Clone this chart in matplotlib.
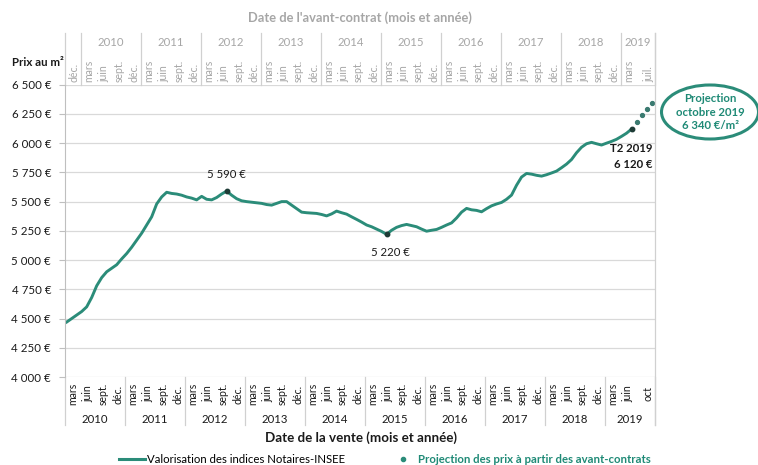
import matplotlib
matplotlib.use("Agg")
import matplotlib.pyplot as plt
from matplotlib.patches import Ellipse
from matplotlib.lines import Line2D
import numpy as np

plt.rcParams["font.family"] = ["Lato", "DejaVu Sans"]

# Monthly price per m2 (Notaires-INSEE), Jan 2010 -> Jun 2019
prices = [
    4470, 4500, 4530, 4560, 4600, 4680, 4780, 4850, 4900, 4930, 4960, 5010,  # 2010
    5056, 5110, 5170, 5230, 5300, 5370, 5480, 5540, 5580, 5570, 5565, 5555,  # 2011
    5540, 5530, 5515, 5545, 5520, 5515, 5535, 5565, 5590, 5555, 5525, 5507,  # 2012
    5500, 5495, 5490, 5485, 5475, 5470, 5485, 5500, 5500, 5470, 5440, 5410,  # 2013
    5405, 5402, 5399, 5390, 5378, 5395, 5419, 5405, 5393, 5370, 5348, 5325,  # 2014
    5300, 5285, 5265, 5245, 5220, 5255, 5280, 5295, 5305, 5295, 5285, 5265,  # 2015
    5247, 5255, 5262, 5280, 5300, 5318, 5360, 5410, 5442, 5430, 5425, 5413,  # 2016
    5440, 5464, 5480, 5493, 5520, 5556, 5640, 5710, 5741, 5735, 5725, 5718,  # 2017
    5730, 5745, 5761, 5790, 5821, 5860, 5918, 5965, 5995, 6007, 5995, 5984,  # 2018
    6000, 6015, 6033, 6058, 6085, 6120,                                      # 2019
]
# Projection from avant-contrats, Jul -> Oct 2019
proj_prices = [6180, 6240, 6295, 6340]

years = list(range(2010, 2020))
sale_month_names = ["mars", "juin", "sept.", "déc."]
sale_months = [2, 5, 8, 11]
sale_2019_names = ["mars", "juin", "oct"]
sale_2019_months = [110, 113, 117]
contract_month_names = ["mars", "juin", "sept.", "déc."]
contract_2019_names = ["mars", "juil."]

peak_idx = 32
trough_idx = 64

TEAL = "#2b8c79"
DARK_TEAL = "#3a7a70"
TEXT_TEAL = "#1f8a76"
GRID = "#d9d9d9"
SEP = "#d0d0d0"
GREY_TXT = "#a6a6a6"

months = np.arange(len(prices))
proj_months = np.arange(len(prices), len(prices) + len(proj_prices))

fig = plt.figure(figsize=(7.58, 4.65), dpi=100)
ax = fig.add_axes([65 / 758, 1 - 377 / 465, 590 / 758, 292.3 / 465])

ax.plot(months, prices, color=TEAL, lw=2.1, solid_joinstyle="round")
ax.plot(proj_months, proj_prices, ls="none", marker="o", ms=2.8, color=DARK_TEAL,
        markeredgecolor=DARK_TEAL)
ax.plot([peak_idx, trough_idx, months[-1]],
        [prices[peak_idx], prices[trough_idx], prices[-1]],
        ls="none", marker="o", ms=3.2, color="#1e3b36")

xmin, xmax = -0.34, 117.7
ax.set_xlim(xmin, xmax)
ax.set_ylim(4000, 6500)
yt = list(range(4000, 6501, 250))
ax.set_yticks(yt)
ax.set_yticklabels([f"{v:,} €".replace(",", " ") for v in yt])
ax.yaxis.grid(True, color=GRID, lw=0.9)
ax.set_axisbelow(True)
ax.set_xticks([])
for s in ["top", "right", "bottom"]:
    ax.spines[s].set_visible(False)
ax.spines["left"].set_color("#bfbfbf")
ax.tick_params(axis="y", length=4, color="#bfbfbf", labelsize=8.3, pad=6,
               labelcolor="#1a1a1a")

trans = ax.get_xaxis_transform()
shift = -0.8

# bottom axis: sale dates
bot_pos, bot_lab = [], []
for y in years[:-1]:
    for name, m in zip(sale_month_names, sale_months):
        bot_pos.append((y - 2010) * 12 + m + shift)
        bot_lab.append(name)
for name, m in zip(sale_2019_names, sale_2019_months):
    bot_pos.append(m + shift)
    bot_lab.append(name)
for p, t in zip(bot_pos, bot_lab):
    ax.text(p, -0.058, t, transform=trans, rotation=90, ha="center", va="center",
            fontsize=7.6, color="#1a1a1a")

bot_seps = [xmin] + [12 * k - 0.3 for k in range(1, 10)] + [xmax]
for s in bot_seps:
    ax.plot([s, s], [0, -0.164], transform=trans, color=SEP, lw=0.9, clip_on=False)
for i, y in enumerate(years):
    ax.text((bot_seps[i] + bot_seps[i + 1]) / 2, -0.147, str(y), transform=trans,
            ha="center", va="center", fontsize=8.2, color="#1a1a1a")

# top axis: avant-contrat dates (3 months earlier)
top_lab = ["déc."]
for y in years[:-1]:
    top_lab += contract_month_names
top_lab += contract_2019_names
top_pos = bot_pos[:len(top_lab)]
for p, t in zip(top_pos, top_lab):
    ax.text(p + 0.2, 1.01, t, transform=trans, rotation=90, ha="center", va="bottom",
            fontsize=7.6, color=GREY_TXT)

top_seps = [xmin] + [12 * k + 2.8 for k in range(0, 10)] + [xmax]
for s in top_seps:
    ax.plot([s, s], [1, 1.177], transform=trans, color=SEP, lw=0.9, clip_on=False)
for i, y in enumerate(years):
    ax.text((top_seps[i + 1] + top_seps[i + 2]) / 2, 1.144, str(y), transform=trans,
            ha="center", va="center", fontsize=8.2, color=GREY_TXT)

# right border line
ax.plot([xmax, xmax], [-0.164, 1.177], transform=trans, color=SEP, lw=0.9,
        clip_on=False)

# value annotations
ax.annotate(f"{prices[peak_idx]:,} €".replace(",", " "),
            (peak_idx, prices[peak_idx]), xytext=(0, 8), textcoords="offset points",
            ha="center", va="bottom", fontsize=8.2, color="#1a1a1a")
ax.annotate(f"{prices[trough_idx]:,} €".replace(",", " "),
            (trough_idx, prices[trough_idx]), xytext=(3, -9), textcoords="offset points",
            ha="center", va="top", fontsize=8.2, color="#1a1a1a")
ax.annotate(f"T2 2019\n{prices[-1]:,} €".replace(",", " "),
            (months[-1], prices[-1]), xytext=(15, -10), textcoords="offset points",
            ha="right", va="top", fontsize=8.2, fontweight="bold", color="#1a1a1a",
            linespacing=1.5)

# projection bubble
ell = Ellipse((710 / 758, 1 - 112 / 465), 97 / 758, 54 / 465, transform=fig.transFigure,
              facecolor="white", edgecolor=TEAL, lw=2.2, clip_on=False)
fig.patches.append(ell)
fig.text(710 / 758, 1 - 112 / 465,
         f"Projection\noctobre 2019\n{proj_prices[-1]:,} €/m²".replace(",", " "),
         ha="center", va="center", fontsize=8.2, fontweight="bold", color=TEXT_TEAL,
         linespacing=1.3)

# titles
fig.text(360 / 758, 1 - 18 / 465, "Date de l'avant-contrat (mois et année)",
         ha="center", va="center", fontsize=9.3, fontweight="bold", color=GREY_TXT)
fig.text(361 / 758, 1 - 438 / 465, "Date de la vente (mois et année)",
         ha="center", va="center", fontsize=9.6, fontweight="bold", color="#1a1a1a")
fig.text(38 / 758, 1 - 62 / 465, "Prix au m²", ha="center", va="center",
         fontsize=8.3, fontweight="bold", color="#1a1a1a")

handles = [Line2D([], [], color=TEAL, lw=2.2),
           Line2D([], [], ls="none", marker="o", ms=3, color=TEAL)]
leg = fig.legend(handles, ["Valorisation des indices Notaires-INSEE",
                           "Projection des prix à partir des avant-contrats"],
                 loc="center", bbox_to_anchor=(385 / 758, 1 - 459 / 465), ncol=2,
                 frameon=False, fontsize=8.2, handlelength=2.2, handletextpad=0.2,
                 columnspacing=4.0, borderpad=0)
leg.get_texts()[1].set_color(TEXT_TEAL)
leg.get_texts()[1].set_fontweight("bold")

fig.savefig("out.png", dpi=100)
